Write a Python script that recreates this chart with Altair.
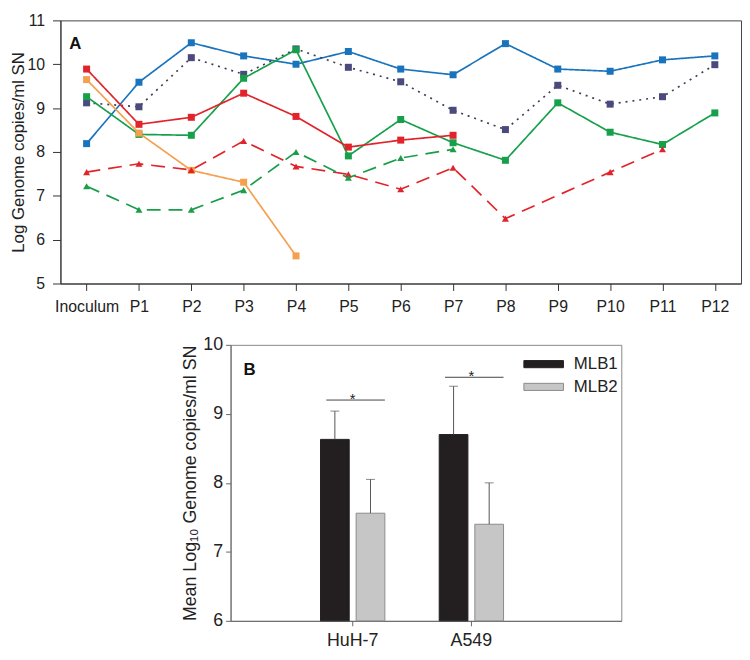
import altair as alt
import pandas as pd

FONT = "Liberation Sans"

# ---------------- Panel A data ----------------
stages = ["Inoculum", "P1", "P2", "P3", "P4", "P5", "P6", "P7", "P8", "P9", "P10", "P11", "P12"]
series_names = ["S1", "S2", "S3", "S4", "S5", "S6", "S7"]
s1_vals = [8.19, 9.59, 10.49, 10.19, 10.00, 10.29, 9.89, 9.76, 10.47, 9.89, 9.84, 10.10, 10.19]
s2_vals = [9.12, 9.03, 10.15, 9.77, 10.35, 9.93, 9.60, 8.95, 8.51, 9.52, 9.09, 9.26, 9.99]
s3_vals = [9.26, 8.40, 8.38, 9.68, 10.33, 7.91, 8.74, 8.21, 7.81, 9.12, 8.45, 8.17, 8.89]
s4_vals = [9.89, 8.63, 8.79, 9.34, 8.81, 8.11, 8.27, 8.38, None, None, None, None, None]
s5_vals = [9.65, 8.43, 7.58, 7.31, 5.63, None, None, None, None, None, None, None, None]
s6_vals = [7.54, 7.73, 7.59, 8.25, 7.67, 7.49, 7.15, 7.64, 6.48, None, 7.54, 8.06, None]
s7_vals = [7.22, 6.68, 6.68, 7.13, 8.00, 7.41, 7.86, 8.06, None, None, None, None, None]
all_vals = [s1_vals, s2_vals, s3_vals, s4_vals, s5_vals, s6_vals, s7_vals]

line_colors = ["#1a74bd", "#3e3e58", "#17a04b", "#e1242b", "#f4a04e", "#e1242b", "#1a9e4a"]
marker_colors = ["#1a74bd", "#4a4a7c", "#17a04b", "#e1242b", "#f4a04e", "#e1242b", "#1a9e4a"]
dashes = [[1, 0], [2, 5], [1, 0], [1, 0], [1, 0], [14, 8], [14, 8]]
shapes = ["square", "square", "square", "square", "square", "triangle-up", "triangle-up"]
marker_sizes = [50, 50, 50, 50, 50, 75, 75]

rows = []
for name, vals in zip(series_names, all_vals):
    for i, (st, v) in enumerate(zip(stages, vals)):
        if v is not None:
            rows.append({"series": name, "stage": st, "idx": i, "value": v})
df_a = pd.DataFrame(rows)

# ---------------- Panel B data ----------------
cells = ["HuH-7", "A549"]
strains = ["MLB1", "MLB2"]
means = {"HuH-7": [8.63, 7.56], "A549": [8.70, 7.40]}
uppers = {"HuH-7": [9.04, 8.05], "A549": [9.40, 8.00]}
sig_levels = [9.20, 9.53]
bar_fills = ["#231f20", "#c6c6c6"]
bar_strokes = ["#231f20", "#8c8c8c"]
panel_labels = ["A", "B"]

rows_b = []
for c in cells:
    for j, s in enumerate(strains):
        rows_b.append({"cell": c, "strain": s, "mean": means[c][j], "upper": uppers[c][j]})
df_b = pd.DataFrame(rows_b)
df_sig = pd.DataFrame({"cell": cells, "sig": sig_levels, "star": ["*", "*"]})

# ---------------- Panel A chart ----------------
xA = alt.X("stage:O", sort=stages, scale=alt.Scale(type="point", padding=0.5),
           axis=alt.Axis(title=None, labelAngle=0, labelFontSize=16, tickSize=7, labelPadding=8,
                         domainColor="#333", tickColor="#333", labelColor="#222"))
yA = alt.Y("value:Q", scale=alt.Scale(domain=[5, 11], nice=False, zero=False),
           axis=alt.Axis(title="Log Genome copies/ml SN", values=[5, 6, 7, 8, 9, 10, 11], grid=False,
                         format="d", tickSize=8, labelPadding=8, labelFontSize=16, titleFontSize=17,
                         titlePadding=0, titleFontWeight="normal", domainColor="#333",
                         tickColor="#333", labelColor="#222", titleColor="#222"))

base_a = alt.Chart(df_a)
lines = base_a.mark_line(strokeWidth=1.7).encode(
    x=xA, y=yA,
    stroke=alt.Stroke("series:N", scale=alt.Scale(domain=series_names, range=line_colors), legend=None),
    strokeDash=alt.StrokeDash("series:N", scale=alt.Scale(domain=series_names, range=dashes), legend=None),
    order="idx:Q",
)
points = base_a.mark_point(filled=True, opacity=1).encode(
    x=xA, y=yA,
    fill=alt.Fill("series:N", scale=alt.Scale(domain=series_names, range=marker_colors), legend=None),
    shape=alt.Shape("series:N", scale=alt.Scale(domain=series_names, range=shapes), legend=None),
    size=alt.Size("series:N", scale=alt.Scale(domain=series_names, range=marker_sizes), legend=None),
)
label_a = alt.Chart(pd.DataFrame({"t": [panel_labels[0]]})).mark_text(
    font=FONT, fontSize=17, fontWeight="bold", align="left", baseline="middle", color="#111"
).encode(x=alt.value(9), y=alt.value(24), text="t:N")

panel_a = alt.layer(lines, points, label_a).properties(
    width=688, height=266, view=alt.ViewBackground(stroke="#444", strokeWidth=1)
)

# ---------------- Panel B chart ----------------
xB = alt.X("cell:N", sort=cells,
           scale=alt.Scale(type="band", paddingInner=0.458, paddingOuter=0.875, align=0.433),
           axis=alt.Axis(title=None, labelAngle=0, labelFontSize=18, tickSize=5, labelPadding=6,
                         domainColor="#666", tickColor="#666", labelColor="#222"))
xoB = alt.XOffset("strain:N", sort=strains, scale=alt.Scale(paddingInner=0.194, paddingOuter=0))
yB = alt.Y("mean:Q", scale=alt.Scale(domain=[6, 10], nice=False, zero=False),
           axis=alt.Axis(title="Mean Log₁₀ Genome copies/ml SN", values=[6, 7, 8, 9, 10], grid=False,
                         format="d", tickSize=5, labelPadding=3, labelFontSize=18, titleFontSize=18,
                         titlePadding=3, titleFontWeight="normal", domainColor="#666",
                         tickColor="#666", labelColor="#222", titleColor="#222"))

base_b = alt.Chart(df_b)
bars = base_b.mark_bar(strokeWidth=1).encode(
    x=xB, xOffset=xoB, y=yB, y2=alt.datum(6),
    fill=alt.Fill("strain:N", scale=alt.Scale(domain=strains, range=bar_fills),
                  legend=alt.Legend(title=None, orient="none", legendX=308, legendY=11,
                                    symbolType="M-2.5,-0.45H2.5V0.45H-2.5Z", symbolSize=256,
                                    symbolStrokeColor="#888", symbolStrokeWidth=1,
                                    labelFontSize=17, labelFont=FONT, labelColor="#222",
                                    labelOffset=22, rowPadding=5, padding=0)),
    stroke=alt.Stroke("strain:N", scale=alt.Scale(domain=strains, range=bar_strokes), legend=None),
)
err = base_b.mark_rule(color="#555", strokeWidth=1).encode(
    x=xB, xOffset=xoB, y="mean:Q", y2="upper:Q"
)
cap = base_b.mark_tick(color="#555", thickness=1, size=9).encode(
    x=xB, xOffset=xoB, y="upper:Q"
)
sig = alt.Chart(df_sig).mark_rule(color="#444", strokeWidth=1).encode(
    x=alt.X("cell:N", sort=cells, bandPosition=0.09), x2=alt.X2("cell:N", bandPosition=1.0), y="sig:Q"
)
star = alt.Chart(df_sig).mark_text(font=FONT, fontSize=15, color="#222", baseline="alphabetic", dy=4).encode(
    x=alt.X("cell:N", sort=cells), y="sig:Q", text="star:N"
)
label_b = alt.Chart(pd.DataFrame({"t": [panel_labels[1]]})).mark_text(
    font=FONT, fontSize=17, fontWeight="bold", align="left", baseline="middle", color="#111"
).encode(x=alt.value(13), y=alt.value(25), text="t:N")

panel_b = alt.layer(bars, err, cap, sig, star, label_b).properties(
    width=395, height=279, view=alt.ViewBackground(stroke="#888", strokeWidth=1)
)

spacer = alt.Chart(pd.DataFrame({"v": [0]})).mark_rule(opacity=0).encode(
    x=alt.value(0), y=alt.value(0), y2=alt.value(1)
).properties(width=121, height=1)

row_b = alt.hconcat(spacer, panel_b, spacing=0).resolve_scale(
    fill="independent", stroke="independent"
)

chart = alt.vconcat(
    panel_a,
    row_b,
    spacing=20,
).resolve_scale(
    fill="independent", stroke="independent", shape="independent", strokeDash="independent",
    size="independent"
).properties(padding=0).configure_view(stroke="transparent").configure_axis(
    labelFont=FONT, titleFont=FONT
).configure_text(font=FONT)

chart.save("out.html", embed_options={"renderer": "svg", "actions": False})
